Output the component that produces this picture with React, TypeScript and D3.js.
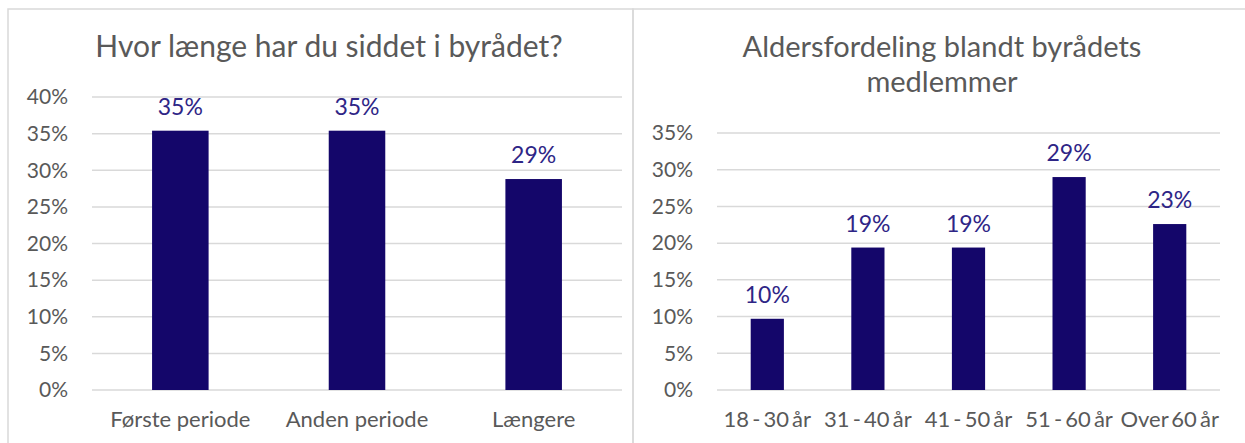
import React, { useRef, useEffect } from 'react';
import * as d3 from 'd3';

// Data
const periodCategories = ['Første periode', 'Anden periode', 'Længere'];
const periodValues = [0.354, 0.354, 0.288];
const periodTicks = [0, 0.05, 0.1, 0.15, 0.2, 0.25, 0.3, 0.35, 0.4];

const ageCategories = ['18 - 30 år', '31 - 40 år', '41 - 50 år', '51 - 60 år', 'Over 60 år'];
const ageValues = [0.097, 0.194, 0.194, 0.29, 0.226];
const ageTicks = [0, 0.05, 0.1, 0.15, 0.2, 0.25, 0.3, 0.35];

const WIDTH = 1245;
const HEIGHT = 443;
const FONT = 'Lato, "Open Sans", sans-serif';
const BAR = '#14066a';
const LABEL = '#2e2586';
const TEXT = '#595959';
const GRID = '#d9d9d9';

interface PanelOpts {
  categories: string[];
  values: number[];
  ticks: number[];
  title: string[];
  titleSize: number;
  x0: number;
  x1: number;
  yTop: number;
  yBottom: number;
  barRatio: number;
  titleX: number;
  catWordSpacing: number;
}

function drawPanel(g: d3.Selection<SVGGElement, unknown, null, undefined>, o: PanelOpts) {
  const x = d3.scaleBand<string>()
    .domain(o.categories)
    .range([o.x0, o.x1])
    .paddingInner(0)
    .paddingOuter(0);
  const y = d3.scaleLinear()
    .domain([0, d3.max(o.ticks) as number])
    .range([o.yBottom, o.yTop]);

  // title
  o.title.forEach((line, i) => {
    g.append('text')
      .attr('x', o.titleX)
      .attr('y', 57 + i * 35)
      .attr('text-anchor', 'middle')
      .attr('font-family', FONT)
      .attr('font-size', o.titleSize)
      .attr('fill', TEXT)
      .text(line);
  });

  // gridlines
  g.selectAll('.grid')
    .data(o.ticks)
    .enter()
    .append('line')
    .attr('x1', o.x0)
    .attr('x2', o.x1)
    .attr('y1', d => y(d))
    .attr('y2', d => y(d))
    .attr('stroke', GRID)
    .attr('stroke-width', 1.5);

  // y tick labels
  g.selectAll('.ytick')
    .data(o.ticks)
    .enter()
    .append('text')
    .attr('x', o.x0 - 24)
    .attr('y', d => y(d))
    .attr('dy', '0.35em')
    .attr('text-anchor', 'end')
    .attr('font-family', FONT)
    .attr('font-size', 21)
    .attr('fill', TEXT)
    .text(d => d3.format('.0%')(d));

  const bw = x.bandwidth() * o.barRatio;
  const data = o.categories.map((c, i) => ({ c, v: o.values[i] }));

  // bars
  g.selectAll('.bar')
    .data(data)
    .enter()
    .append('rect')
    .attr('x', d => (x(d.c) as number) + (x.bandwidth() - bw) / 2)
    .attr('y', d => y(d.v))
    .attr('width', bw)
    .attr('height', d => y(0) - y(d.v))
    .attr('fill', BAR);

  // data labels
  g.selectAll('.lbl')
    .data(data)
    .enter()
    .append('text')
    .attr('x', d => (x(d.c) as number) + x.bandwidth() / 2)
    .attr('y', d => y(d.v) - 16)
    .attr('text-anchor', 'middle')
    .attr('font-family', FONT)
    .attr('font-size', 23)
    .attr('fill', LABEL)
    .text(d => d3.format('.0%')(d.v));

  // category labels
  g.selectAll('.cat')
    .data(data)
    .enter()
    .append('text')
    .attr('x', d => (x(d.c) as number) + x.bandwidth() / 2)
    .attr('y', o.yBottom + 37)
    .attr('text-anchor', 'middle')
    .attr('font-family', FONT)
    .attr('font-size', 22)
    .attr('word-spacing', o.catWordSpacing)
    .attr('fill', TEXT)
    .text(d => d.c);
}

export default function App() {
  const svgRef = useRef<SVGSVGElement>(null);

  useEffect(() => {
    if (!svgRef.current) return;
    const svg = d3.select(svgRef.current);
    svg.selectAll('*').remove();

    svg.append('rect').attr('width', WIDTH).attr('height', HEIGHT).attr('fill', '#fff');

    // frames
    svg.append('rect')
      .attr('x', 8).attr('y', 9)
      .attr('width', 625).attr('height', HEIGHT)
      .attr('fill', 'none').attr('stroke', GRID).attr('stroke-width', 1.5);
    svg.append('rect')
      .attr('x', 633).attr('y', 9)
      .attr('width', WIDTH).attr('height', HEIGHT)
      .attr('fill', 'none').attr('stroke', GRID).attr('stroke-width', 1.5);

    const g = svg.append('g');

    drawPanel(g, {
      categories: periodCategories,
      values: periodValues,
      ticks: periodTicks,
      title: ['Hvor længe har du siddet i byrådet?'],
      titleSize: 30,
      x0: 92,
      x1: 622,
      yTop: 97,
      yBottom: 390,
      barRatio: 0.32,
      titleX: 329,
      catWordSpacing: 0,
    });

    drawPanel(g, {
      categories: ageCategories,
      values: ageValues,
      ticks: ageTicks,
      title: ['Aldersfordeling blandt byrådets', 'medlemmer'],
      titleSize: 29,
      x0: 717,
      x1: 1220,
      yTop: 133,
      yBottom: 390,
      barRatio: 0.33,
      titleX: 942,
      catWordSpacing: -2.5,
    });
  }, []);

  return (
    <div style={{ position: 'absolute', left: 0, top: 0 }}>
      <svg ref={svgRef} width={WIDTH} height={HEIGHT} style={{ display: 'block' }} />
    </div>
  );
}
